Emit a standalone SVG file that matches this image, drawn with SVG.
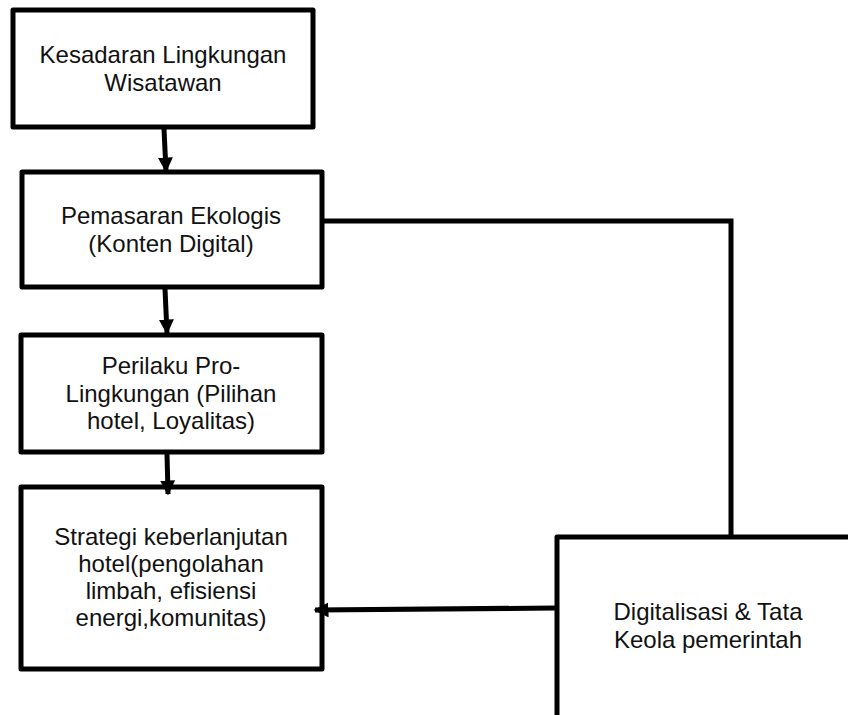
<svg xmlns="http://www.w3.org/2000/svg" width="848" height="715" viewBox="0 0 848 715">
<style>
.box{fill:#fff;stroke:#000;stroke-width:5;stroke-linejoin:round}
.t{font-family:"Liberation Sans",Arial,sans-serif;font-size:24px;fill:#111;text-anchor:middle}
.c{fill:none;stroke:#000;stroke-width:5;stroke-linejoin:miter}
</style>
<defs>
<marker id="ah" viewBox="0 0 10 10" refX="9" refY="5" markerWidth="3" markerHeight="3" orient="auto" markerUnits="strokeWidth">
<path d="M0,0 L10,5 L0,10 Z" fill="#000"/>
</marker>
</defs>
<rect width="848" height="715" fill="#fff"/>
<g id="n1">
<rect class="box" x="13" y="10" width="300" height="117"/>
<text class="t" x="163" y="63">Kesadaran Lingkungan</text>
<text class="t" x="163" y="91">Wisatawan</text>
</g>
<g id="n2">
<rect class="box" x="22" y="172" width="300" height="115"/>
<text class="t" x="171" y="224">Pemasaran Ekologis</text>
<text class="t" x="171" y="252">(Konten Digital)</text>
</g>
<g id="n3">
<rect class="box" x="21" y="335" width="301" height="117"/>
<text class="t" x="171" y="374">Perilaku Pro-</text>
<text class="t" x="171" y="402">Lingkungan (Pilihan</text>
<text class="t" x="171" y="429">hotel, Loyalitas)</text>
</g>
<g id="n4">
<rect class="box" x="21" y="487" width="301" height="182"/>
<text class="t" x="171" y="545">Strategi keberlanjutan</text>
<text class="t" x="171" y="572">hotel(pengolahan</text>
<text class="t" x="171" y="599">limbah, efisiensi</text>
<text class="t" x="171" y="626">energi,komunitas)</text>
</g>
<g id="n5">
<rect class="box" x="557" y="537" width="303" height="230"/>
<text class="t" x="708" y="620">Digitalisasi &amp; Tata</text>
<text class="t" x="708" y="648">Keola pemerintah</text>
</g>
<g id="connectors">
<path class="c" d="M164,129 L166,171" marker-end="url(#ah)"/>
<path class="c" d="M165,289 L167,333" marker-end="url(#ah)"/>
<path class="c" d="M167,454 L168,494" marker-end="url(#ah)"/>
<path class="c" d="M324,221 L731,221 L731,535"/>
<path class="c" d="M555,608 L315,610" marker-end="url(#ah)"/>
</g>
</svg>
